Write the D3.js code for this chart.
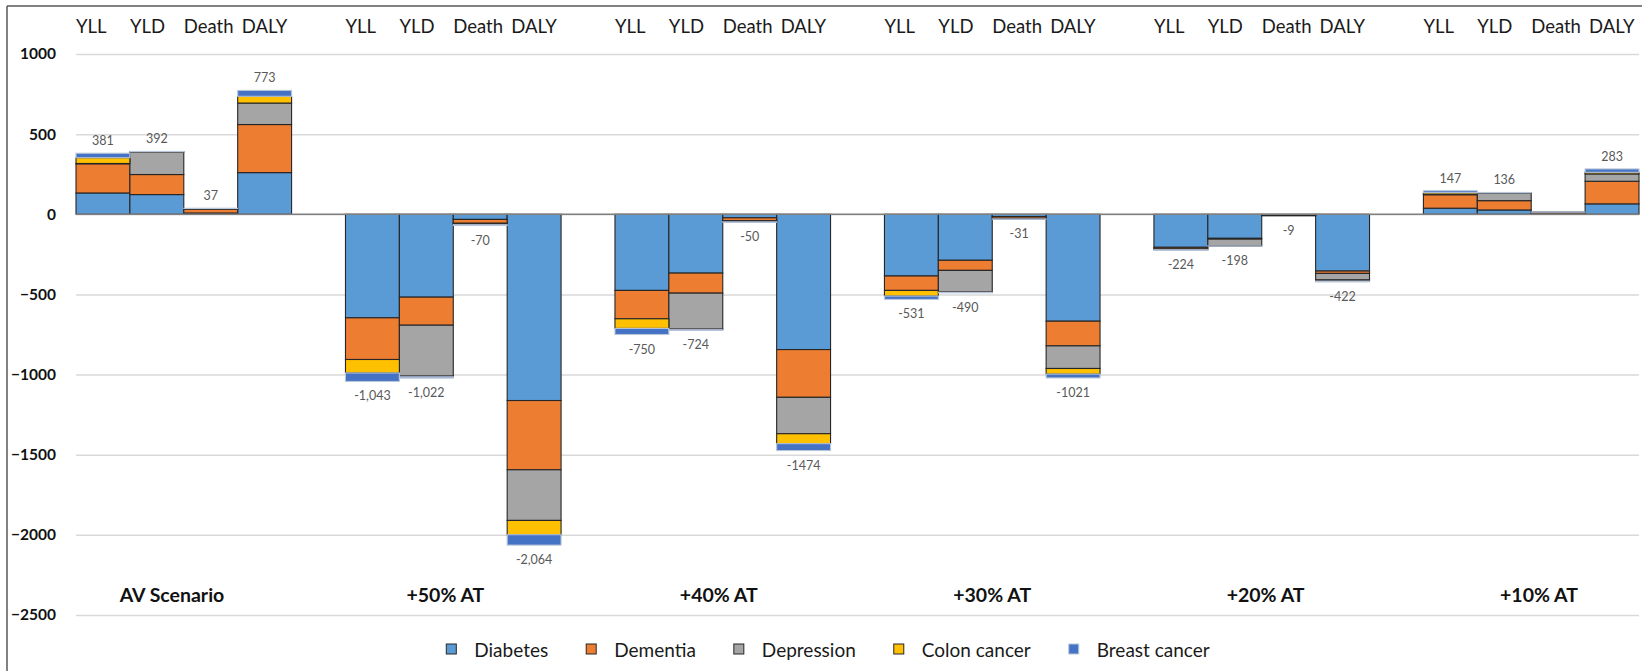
<!DOCTYPE html>
<html><head><meta charset="utf-8">
<script src="https://cdn.jsdelivr.net/npm/d3@7"></script>
<style>
body{margin:0;background:#fff}
svg{display:block}
text{font-family:Lato,"Open Sans",sans-serif}
</style>
</head><body>
<svg id="c" width="1642" height="671"></svg>
<script>
const scenarios = ["AV Scenario","+50% AT","+40% AT","+30% AT","+20% AT","+10% AT"];
const measures = ["YLL","YLD","Death","DALY"];
const diseases = ["Diabetes","Dementia","Depression","Colon cancer","Breast cancer"];
const colors = ["#5B9BD5","#ED7D31","#A5A5A5","#FFC000","#4472C4"];
// values: [scenario][measure: YLL, YLD, Death, DALY]
const diabetes     = [[133,123,8,260],[-646,-517,-32,-1162],[-475,-367,-22,-844],[-385,-287,-14,-667],[-206,-150,-3,-354],[38,27,2,65]];
const dementia     = [[182,125,24,300],[-260,-175,-24,-432],[-177,-125,-18,-298],[-90,-63,-11,-154],[-10,-5,-4,-15],[84,58,9,141]];
const depression   = [[2,140,3,134],[0,-318,-4,-316],[0,-225,-3,-227],[0,-135,-2,-141],[0,-41,-1,-41],[3,48,1,46]];
const colonCancer  = [[36,2,1,42],[-84,-4,-5,-89],[-60,-3,-4,-62],[-35,-2,-2,-35],[-5,-1,-1,-7],[10,1,1,10]];
const breastCancer = [[28,2,1,37],[-53,-8,-5,-65],[-38,-4,-3,-43],[-21,-3,-2,-24],[-3,-1,0,-5],[12,2,1,21]];
const totalLabels  = [["381","392","37","773"],["-1,043","-1,022","-70","-2,064"],["-750","-724","-50","-1474"],["-531","-490","-31","-1021"],["-224","-198","-9","-422"],["147","136","","283"]];
const yTicks = [1000,500,0,-500,-1000,-1500,-2000,-2500];

const series = [diabetes, dementia, depression, colonCancer, breastCancer];

const svg = d3.select("#c");
const W = 1642, H = 671;
const plotL = 76, plotR = 1639, plotT = 54, plotB = 615;

// rows
const rows = [];
const slots = [];
scenarios.forEach((s, si) => {
  measures.forEach((m, mi) => {
    const key = s + "|" + m;
    const r = {key, si, mi, label: totalLabels[si][mi]};
    diseases.forEach((d, di) => r[d] = series[di][si][mi]);
    r.total = diseases.reduce((a, d) => a + r[d], 0);
    rows.push(r);
    slots.push(key);
  });
  if (si < scenarios.length - 1) slots.push("gap" + si);
});

const x = d3.scaleBand().domain(slots).range([plotL, plotR]).paddingInner(0).paddingOuter(0);
const y = d3.scaleLinear().domain([-2500, 1000]).range([plotB, plotT]);
const xLab = d3.scalePoint().domain(scenarios).range([172, 1539]);

// frame
svg.append("line").attr("x1",7).attr("x2",7).attr("y1",6).attr("y2",H).attr("stroke","#595959").attr("stroke-width",1.5);
svg.append("line").attr("x1",7).attr("x2",W).attr("y1",6).attr("y2",6).attr("stroke","#595959").attr("stroke-width",1.5);

// gridlines
const yAxis = d3.axisLeft(y).tickValues(yTicks).tickSize(-(plotR - plotL)).tickFormat(d3.format("d"));
const gy = svg.append("g").attr("transform", `translate(${plotL},0)`).call(yAxis);
gy.select(".domain").remove();
gy.selectAll(".tick line").attr("stroke", "#d9d9d9").attr("stroke-width", 1.5);
gy.selectAll(".tick text").attr("x", -20).attr("font-size", 15.5).attr("font-weight", "bold")
  .attr("fill", "#111").attr("font-family", "Lato, sans-serif");

// stacked bars
const stack = d3.stack().keys(diseases).offset(d3.stackOffsetDiverging);
const stacked = stack(rows);
const gBars = svg.append("g");
stacked.forEach((layer, li) => {
  gBars.append("g").selectAll("rect").data(layer.filter(d => d[1] !== d[0])).join("rect")
    .attr("x", d => x(d.data.key))
    .attr("width", x.bandwidth())
    .attr("y", d => y(Math.max(d[0], d[1])))
    .attr("height", d => Math.abs(y(d[0]) - y(d[1])))
    .attr("fill", colors[li])
    .attr("stroke", li === 4 ? "#b9c6da" : "#262626")
    .attr("stroke-width", 1.1);
});

// zero line
svg.append("line").attr("x1", plotL).attr("x2", plotR).attr("y1", y(0)).attr("y2", y(0))
  .attr("stroke", "#7f7f7f").attr("stroke-width", 1.5);

// total labels
svg.append("g").selectAll("text").data(rows.filter(r => r.label)).join("text")
  .attr("x", d => x(d.key) + x.bandwidth() / 2)
  .attr("y", d => d.total >= 0 ? y(d.total) - 12.5 : y(d.total) + 14.5)
  .attr("text-anchor", "middle").attr("dominant-baseline", "central")
  .attr("font-size", 12.5).attr("fill", "#595959")
  .text(d => d.label);

// measure labels at top
const mDx = [0, 0, 0, 4];
svg.append("g").selectAll("text").data(rows).join("text")
  .attr("x", d => x(d.key) + mDx[d.mi])
  .attr("y", 26)
  .attr("dominant-baseline", "central")
  .attr("font-size", 18.5).attr("fill", "#1a1a1a")
  .text(d => measures[d.mi]);

// scenario labels
svg.append("g").selectAll("text").data(scenarios).join("text")
  .attr("x", d => xLab(d)).attr("y", 594)
  .attr("text-anchor", "middle").attr("dominant-baseline", "central")
  .attr("font-size", 19.5).attr("font-weight", "bold").attr("fill", "#111")
  .text(d => d);

// legend
const lg = svg.append("g");
const items = [];
diseases.forEach((d, i) => {
  const g = lg.append("g");
  g.append("rect").attr("x", 0).attr("y", -5).attr("width", 10).attr("height", 10)
    .attr("fill", colors[i]).attr("stroke", i === 4 ? "#b9c6da" : "#262626").attr("stroke-width", 1);
  const t = g.append("text").attr("x", 28).attr("y", 0).attr("dominant-baseline", "central")
    .attr("font-size", 19).attr("fill", "#1a1a1a").text(d);
  const w = 28 + t.node().getComputedTextLength();
  items.push({g, w});
});
const gapL = 38;
let total = items.reduce((a, it) => a + it.w, 0) + gapL * (items.length - 1);
let start = 828 - total / 2;
items.forEach(it => { it.g.attr("transform", `translate(${start},649)`); start += it.w + gapL; });
</script>
</body></html>
